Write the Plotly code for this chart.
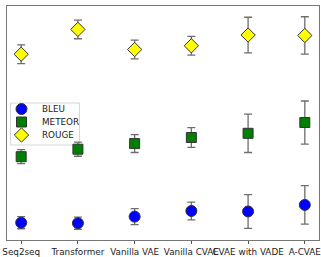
import plotly.graph_objects as go

models = ["Seq2seq", "Transformer", "Vanilla VAE", "Vanilla CVAE", "CVAE with VADE", "A-CVAE"]

bleu = [0.037, 0.036, 0.050, 0.062, 0.061, 0.075]
bleu_err = [0.013, 0.013, 0.017, 0.019, 0.036, 0.041]

meteor = [0.178, 0.194, 0.206, 0.219, 0.228, 0.251]
meteor_err = [0.015, 0.015, 0.019, 0.021, 0.041, 0.046]

rouge = [0.397, 0.450, 0.407, 0.415, 0.438, 0.437]
rouge_err = [0.020, 0.020, 0.020, 0.020, 0.038, 0.040]

metric_names = ["BLEU", "METEOR", "ROUGE"]

x_idx = list(range(len(models)))

W, H = 321, 257
ML, MR, MT, MB = 7, 2, 6, 17
PW, PH = W - ML - MR, H - MT - MB

styles = {
    "BLEU": dict(symbol="circle", color="#0000ff", size=11),
    "METEOR": dict(symbol="square", color="#008000", size=10),
    "ROUGE": dict(symbol="diamond", color="#ffff00", size=11),
}

fig = go.Figure()

for name, vals, errs in zip(metric_names, [bleu, meteor, rouge], [bleu_err, meteor_err, rouge_err]):
    st = styles[name]
    fig.add_trace(go.Scatter(
        x=x_idx, y=vals, mode="markers", name=name, showlegend=False,
        marker=dict(symbol=st["symbol"], color=st["color"], size=st["size"],
                    line=dict(color="#333333", width=1)),
        error_y=dict(type="data", array=errs, visible=True,
                     color="#6e6e6e", thickness=1.3, width=4),
    ))

# hand-built legend (pixel-like overlay axes)
leg_x0, leg_x1, leg_y0, leg_y1 = 3.5, 72.5, 97, 139
key_x, text_x = 14.5, 32.5
key_rows = [103, 116, 129]
fig.add_shape(type="rect", xref="x2", yref="y2", x0=leg_x0, x1=leg_x1, y0=leg_y0, y1=leg_y1,
              line=dict(color="#d6d6d6", width=1), fillcolor="rgba(255,255,255,0.8)", layer="below")
for name, ky in zip(metric_names, key_rows):
    st = styles[name]
    fig.add_trace(go.Scatter(
        x=[key_x], y=[ky], xaxis="x2", yaxis="y2", mode="markers", showlegend=False,
        hoverinfo="skip",
        marker=dict(symbol=st["symbol"], color=st["color"], size=st["size"],
                    line=dict(color="#333333", width=1)),
    ))
    fig.add_annotation(x=text_x, y=ky, xref="x2", yref="y2", text=name, showarrow=False,
                       xanchor="left", yanchor="middle",
                       font=dict(family="DejaVu Sans", size=8.8, color="#222222"))

fig.update_layout(
    width=W, height=H,
    margin=dict(l=ML, r=MR, t=MT, b=MB, autoexpand=False),
    plot_bgcolor="white", paper_bgcolor="white",
    font=dict(family="DejaVu Sans", size=8.8, color="#222222"),
    showlegend=False,
    xaxis2=dict(overlaying="x", range=[0, PW], visible=False, fixedrange=True),
    yaxis2=dict(overlaying="y", range=[PH, 0], visible=False, fixedrange=True),
)
fig.layout.xaxis.update(
    range=[-0.25, 5.25], tickmode="array", tickvals=x_idx, ticktext=models,
    showgrid=False, zeroline=False, showline=True, linecolor="#777777", linewidth=1,
    mirror=True, ticks="outside", ticklen=3, tickcolor="#555555", automargin=False,
    tickfont=dict(family="DejaVu Sans", size=8.8, color="#222222"), tickangle=0,
)
fig.layout.yaxis.update(
    range=[0.0, 0.5], showticklabels=False, ticks="", showgrid=False, zeroline=False,
    showline=True, linecolor="#777777", linewidth=1, mirror=True, automargin=False,
)

fig.write_html("out.html", config={"displayModeBar": False},
               post_script="document.body.style.margin='0';document.body.style.overflow='hidden';")
